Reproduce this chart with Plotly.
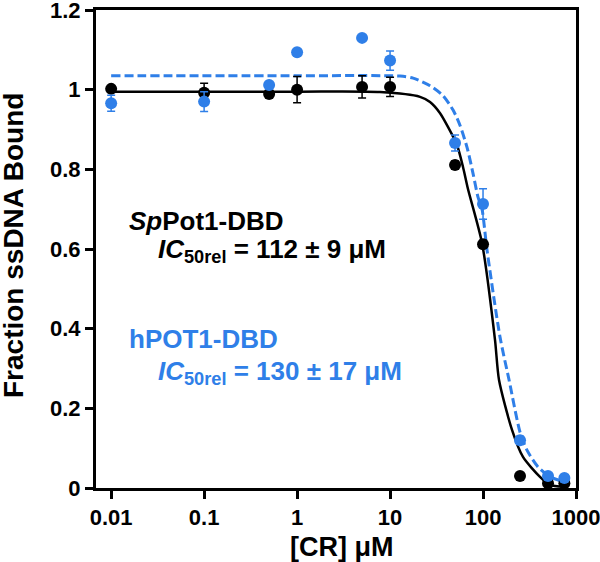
"""
CR competition binding: fraction ssDNA bound vs [CR].
"""
import plotly.graph_objects as go

BLACK = '#000000'
BLUE = '#2f7fe8'
FONT = 'Liberation Sans, Arial, sans-serif'

conc = [0.01, 0.1, 0.5, 1, 5, 10, 50, 100, 250, 500, 750]

sp_bound = [1.002, 0.992, 0.989, 1.000, 1.007, 1.007, 0.811, 0.612, 0.030, 0.012, 0.012]
sp_err = [0.008, 0.024, 0.008, 0.033, 0.028, 0.024, 0.010, 0.010, 0.008, 0.005, 0.005]

h_bound = [0.966, 0.970, 1.012, 1.094, 1.130, 1.073, 0.866, 0.713, 0.120, 0.030, 0.025]
h_err = [0.020, 0.025, 0.008, 0.008, 0.008, 0.024, 0.020, 0.038, 0.010, 0.008, 0.008]

# fitted curves
sp_fit_x = [0.01, 1, 7.8, 21, 26.9, 34.5, 42.1, 52.5, 60.9, 69, 97.5, 134.5, 148.6, 205, 269, 410, 525, 750]
sp_fit_y = [0.995, 0.995, 0.994, 0.982, 0.969, 0.941, 0.906, 0.861, 0.806, 0.750, 0.615, 0.372, 0.271, 0.146,
            0.078, 0.028, 0.008, 0.003]

h_fit_x = [0.01, 1, 12.8, 17.7, 26.9, 37.1, 47.6, 56.6, 67.3, 78, 88.3, 97.5, 110, 152, 190.6, 250, 297, 390,
           525, 762]
h_fit_y = [1.035, 1.035, 1.034, 1.029, 1.010, 0.985, 0.949, 0.910, 0.855, 0.790, 0.730, 0.700, 0.600, 0.380,
           0.271, 0.140, 0.095, 0.053, 0.028, 0.015]

x_ticks = [0.01, 0.1, 1, 10, 100, 1000]
x_labels = ['0.01', '0.1', '1', '10', '100', '1000']
y_ticks = [0, 0.2, 0.4, 0.6, 0.8, 1.0, 1.2]
y_labels = ['0', '0.2', '0.4', '0.6', '0.8', '1', '1.2']

W, H = 600, 562
# plot area in pixels
L, R, T, B = 96, 576, 10, 488

fig = go.Figure()
fig.add_trace(go.Scatter(x=sp_fit_x, y=sp_fit_y, mode='lines',
                         line=dict(color=BLACK, width=2.5, shape='spline', smoothing=0.7), cliponaxis=False))
fig.add_trace(go.Scatter(x=h_fit_x, y=h_fit_y, mode='lines',
                         line=dict(color=BLUE, width=3, dash='9px,4px', shape='spline', smoothing=0.7),
                         cliponaxis=False))
fig.add_trace(go.Scatter(x=conc, y=sp_bound, mode='markers', marker=dict(color=BLACK, size=12),
                         error_y=dict(array=sp_err, color=BLACK, thickness=1.5, width=4), cliponaxis=False))
fig.add_trace(go.Scatter(x=conc, y=h_bound, mode='markers', marker=dict(color=BLUE, size=12),
                         error_y=dict(array=h_err, color=BLUE, thickness=1.5, width=4), cliponaxis=False))


def px_x(px):
    return (px - L) / (R - L)


def px_y(py):
    return (B - py) / (B - T)


notes = [
    ('<i>Sp</i>Pot1-DBD', 127, 221, BLACK),
    ('<i>IC</i><sub>50rel</sub> = 112 ± 9 μM', 156, 251, BLACK),
    ('hPOT1-DBD', 127, 339, BLUE),
    ('<i>IC</i><sub>50rel</sub> = 130 ± 17 μM', 156, 372, BLUE),
]
for text, px, py, col in notes:
    fig.add_annotation(text=text, xref='paper', yref='paper', x=px_x(px), y=px_y(py),
                       xanchor='left', yanchor='middle', showarrow=False,
                       font=dict(family=FONT, size=26, color=col, weight='bold'))

# axis titles
fig.add_annotation(text='[CR] μM', xref='paper', yref='paper', x=px_x(342), y=px_y(547),
                   xanchor='center', yanchor='middle', showarrow=False,
                   font=dict(family=FONT, size=27, color=BLACK, weight='bold'))
fig.add_annotation(text='Fraction ssDNA Bound', xref='paper', yref='paper', x=px_x(14), y=px_y(246),
                   xanchor='center', yanchor='middle', showarrow=False, textangle=-90,
                   font=dict(family=FONT, size=28, color=BLACK, weight='bold'))

axis_common = dict(showgrid=False, zeroline=False, showline=True, linecolor=BLACK, linewidth=3,
                   mirror=True, ticks='outside', ticklen=8, tickwidth=3, tickcolor=BLACK, automargin=False,
                   ticklabeloverflow='allow',
                   tickfont=dict(family=FONT, size=22, color=BLACK, weight='bold'))

fig.update_layout(
    width=W, height=H,
    margin=dict(l=L, r=W - R, t=T, b=H - B),
    paper_bgcolor='white', plot_bgcolor='white',
    showlegend=False,
    xaxis=dict(type='log', range=[-2.163, 3.0], tickvals=x_ticks, ticktext=x_labels, **axis_common),
    yaxis=dict(range=[0, 1.2], tickvals=y_ticks, ticktext=y_labels, **axis_common),
)

# drop the default 8px page margin so the figure sits at the window corner
fig.write_html('out.html', config={'displayModeBar': False},
               post_script="document.body.style.margin = '0';")
